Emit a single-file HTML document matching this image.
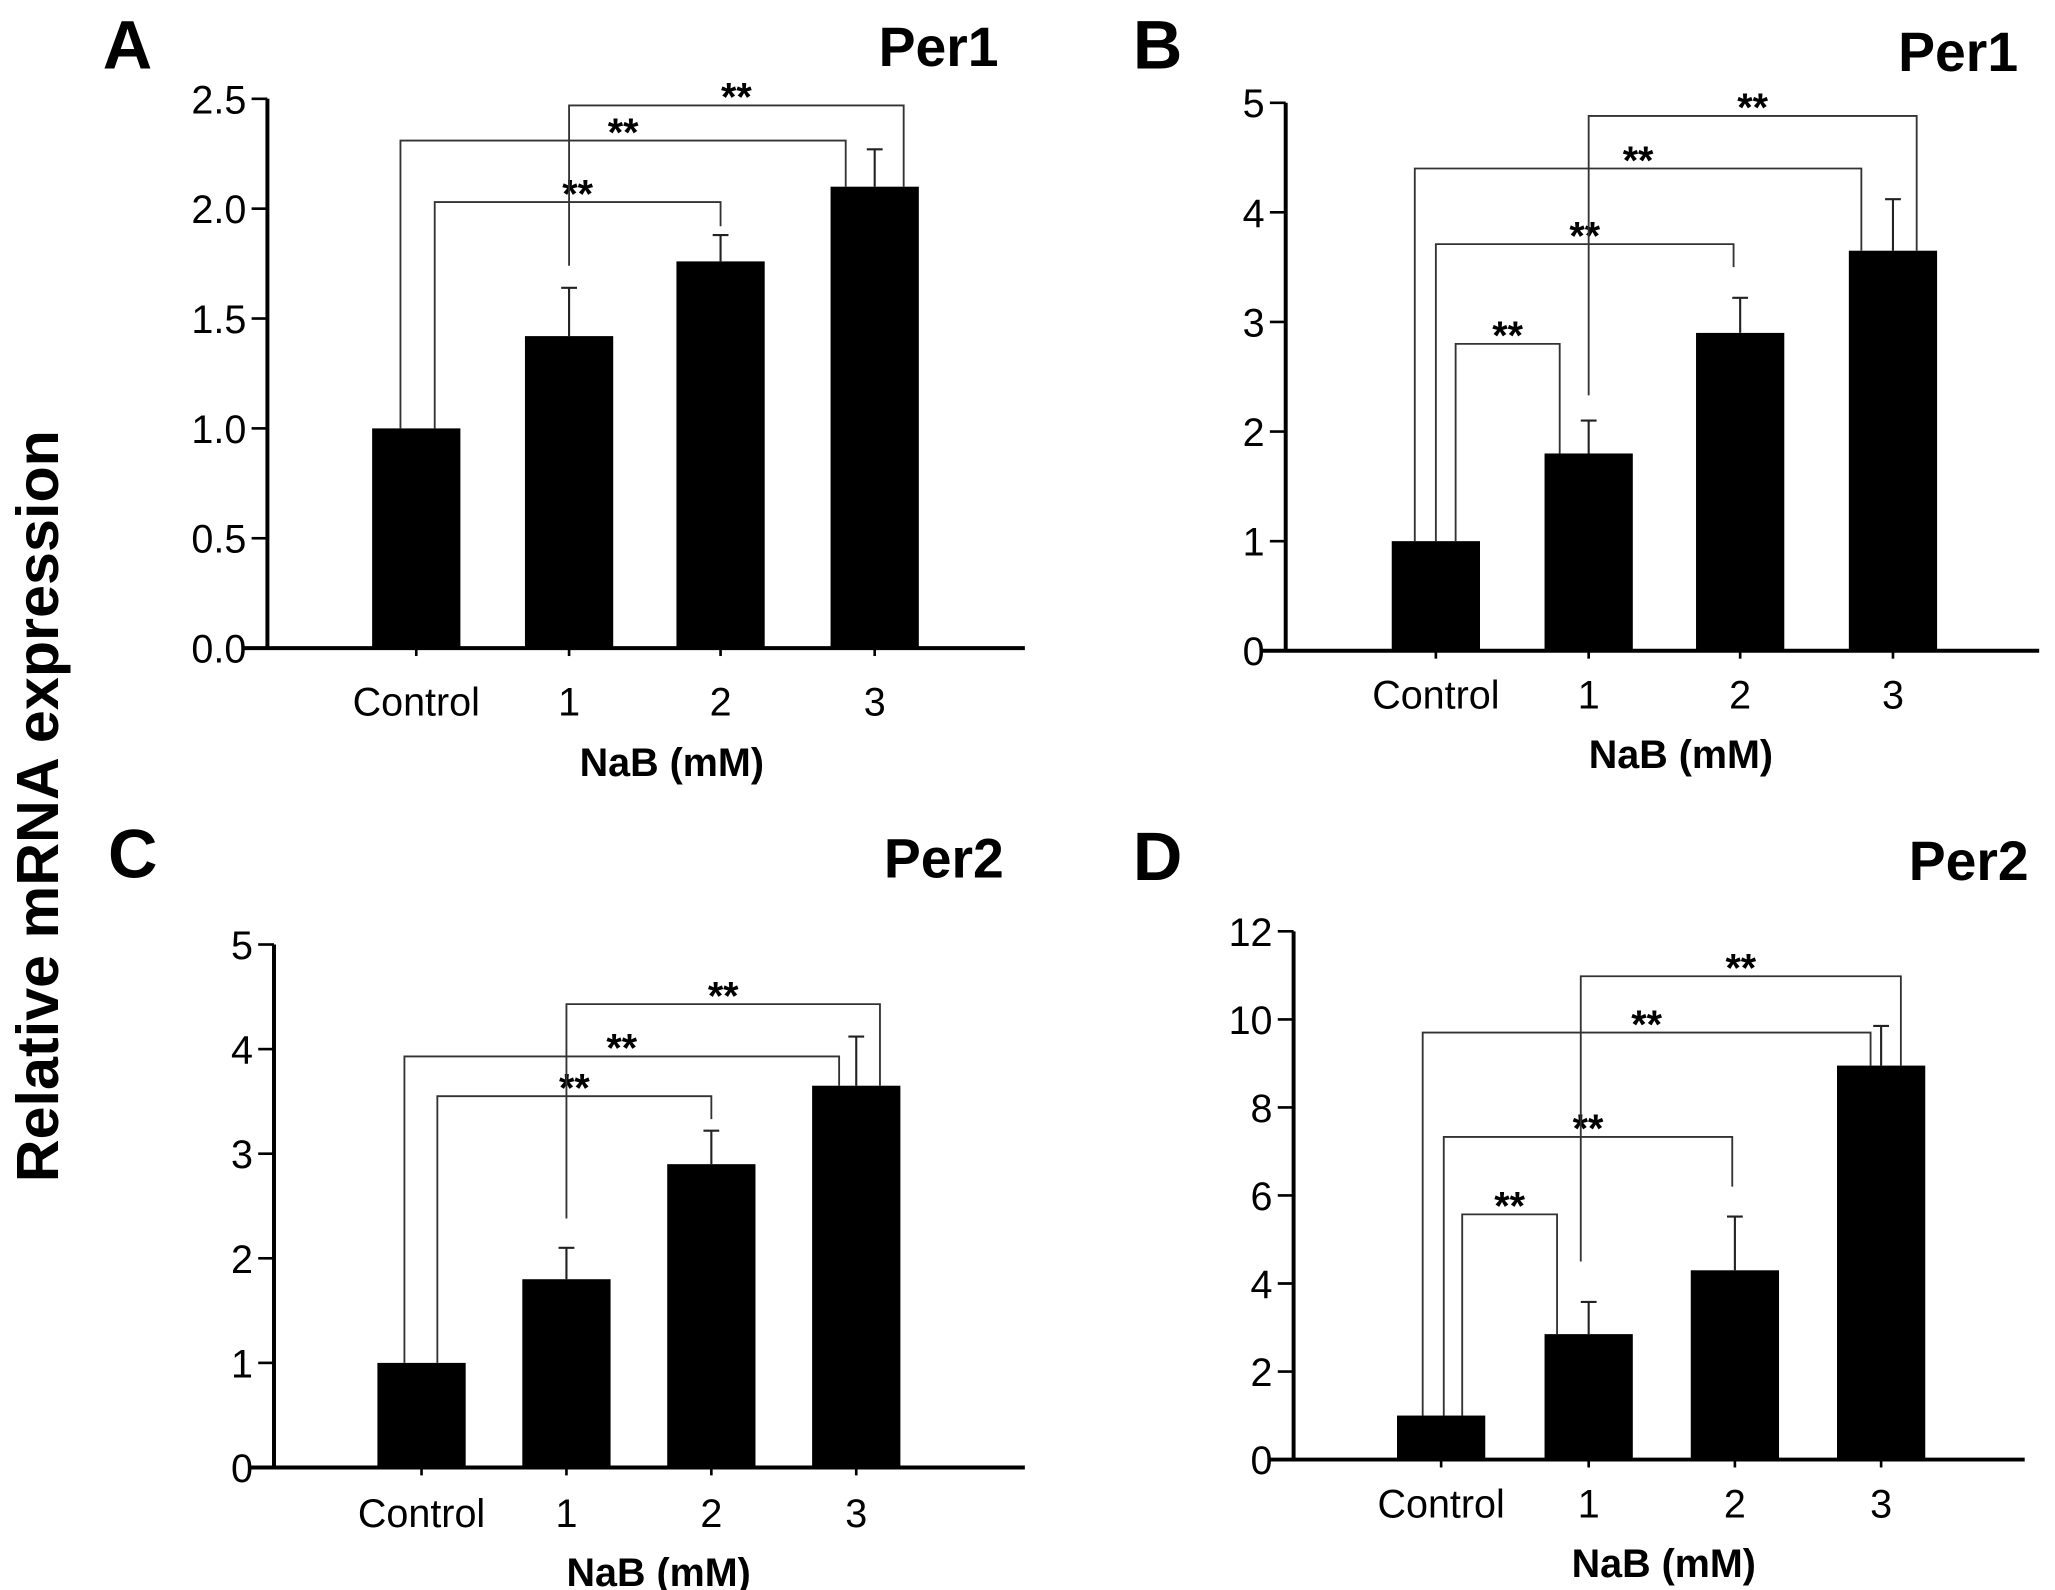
<!DOCTYPE html>
<html><head><meta charset="utf-8"><style>
html,body{margin:0;padding:0;background:#fff;}
svg{display:block;font-family:"Liberation Sans",Arial,sans-serif;}
</style></head><body>
<svg id="fig" width="2055" height="1590" viewBox="0 0 1560 1207" xmlns="http://www.w3.org/2000/svg">
<text transform="translate(44,612) rotate(-90)" text-anchor="middle" font-size="45" font-weight="bold">Relative mRNA expression</text>
</svg>
<script>
const categories = ["Control","1","2","3"];
const valuesA = [1.0, 1.42, 1.76, 2.10];
const errorsA = [1.0, 1.64, 1.88, 2.27];
const ticksA = ["0.0","0.5","1.0","1.5","2.0","2.5"];
const tickValsA = [0,0.5,1,1.5,2,2.5];
const valuesB = [1.0, 1.8, 2.9, 3.65];
const errorsB = [1.0, 2.1, 3.22, 4.12];
const ticksB = ["0","1","2","3","4","5"];
const tickValsB = [0,1,2,3,4,5];
const valuesC = [1.0, 1.8, 2.9, 3.65];
const errorsC = [1.0, 2.1, 3.22, 4.12];
const ticksC = ["0","1","2","3","4","5"];
const tickValsC = [0,1,2,3,4,5];
const valuesD = [1.0, 2.85, 4.3, 8.95];
const errorsD = [1.0, 3.58, 5.52, 9.85];
const ticksD = ["0","2","4","6","8","10","12"];
const tickValsD = [0,2,4,6,8,10,12];
// brackets: [from, to, level, leftEnd, rightEnd]
const bracketsA = [[0,2,2.03,1.0,1.92],[0,3,2.31,1.0,2.10],[1,3,2.47,1.74,2.10]];
const bracketsB = [[0,1,2.8,1.0,1.8],[0,2,3.71,1.0,3.5],[0,3,4.4,1.0,3.65],[1,3,4.88,2.33,3.65]];
const bracketsC = [[0,2,3.55,1.0,3.33],[0,3,3.93,1.0,3.65],[1,3,4.43,2.38,3.65]];
const bracketsD = [[0,1,5.57,1.0,2.85],[0,2,7.33,1.0,6.2],[0,3,9.7,1.0,8.95],[1,3,10.98,4.5,8.95]];

const NS="http://www.w3.org/2000/svg";
const svg=document.getElementById('fig');
function mk(tag,attrs,parent){const e=document.createElementNS(NS,tag);for(const k in attrs)e.setAttribute(k,attrs[k]);(parent||svg).appendChild(e);return e;}

function panel(cfg){
  const g=mk('g',{});
  
  
  const y=v=>cfg.y0-(v-cfg.vmin)/(cfg.vmax-cfg.vmin)*(cfg.y0-cfg.ytop);
  const bw=67;
  const L=mk('text',{x:cfg.letterX,y:cfg.letterY,'font-size':52,'font-weight':'bold'},g);L.textContent=cfg.id;
  
  
  const T=mk('text',{x:cfg.titleX,y:cfg.titleY,'font-size':42,'font-weight':'bold','text-anchor':'end'},g);T.textContent=cfg.title;
  
  
  cfg.values.forEach((v,i)=>{
    const cx=cfg.cx[i];
    const b=mk('rect',{x:cx-bw/2,y:y(v),width:bw,height:cfg.y0-y(v),fill:'#000'},g);
    
    
    if(cfg.errors[i]>v){
      const e=mk('path',{d:`M${cx},${y(v)}V${y(cfg.errors[i])}M${cx-6},${y(cfg.errors[i])}H${cx+6}`,stroke:'#222','stroke-width':1.6,fill:'none'},g);
      
      
    }
    mk('line',{x1:cx,x2:cx,y1:cfg.y0,y2:cfg.y0+6,stroke:'#000','stroke-width':2},g);
    const lb=mk('text',{x:cx,y:cfg.labY,'font-size':30,'text-anchor':'middle'},g);lb.textContent=categories[i];
    
    
  });
  const ya=mk('line',{x1:cfg.ax,x2:cfg.ax,y1:cfg.ytop,y2:cfg.y0,stroke:'#000','stroke-width':3},g);
  
  
  const xa=mk('line',{x1:cfg.ax-18,x2:cfg.xend,y1:cfg.y0,y2:cfg.y0,stroke:'#000','stroke-width':3},g);
  
  
  cfg.tickVals.forEach((tv,i)=>{
    mk('line',{x1:cfg.ax-12,x2:cfg.ax,y1:y(tv),y2:y(tv),stroke:'#000','stroke-width':2},g);
    const t=mk('text',{x:cfg.ax-16,y:y(tv)+11,'font-size':30,'text-anchor':'end'},g);t.textContent=cfg.ticks[i];
    
    
  });
  const xt=mk('text',{x:cfg.xtX,y:cfg.xtY,'font-size':30,'font-weight':'bold','text-anchor':'middle'},g);xt.textContent='NaB (mM)';
  
  
  cfg.brackets.forEach((br,k)=>{
    const lx=cfg.cx[br[0]]+cfg.boff[k][0], rx=cfg.cx[br[1]]+cfg.boff[k][1], by=y(br[2]);
    const p=mk('path',{d:`M${lx},${y(br[3])}V${by}H${rx}V${y(br[4])}`,stroke:'#333','stroke-width':1.4,fill:'none'},g);
    
    
    const s=mk('text',{x:(lx+rx)/2,y:by+4,'font-size':30,'font-weight':'bold','text-anchor':'middle'},g);s.textContent='**';
    
    
  });
}
panel({id:'A',title:'Per1',values:valuesA,errors:errorsA,ticks:ticksA,tickVals:tickValsA,vmin:0,vmax:2.5,
 ax:203,ytop:75,y0:492,xend:778,cx:[316,432,547,664],labY:543,xtX:510,xtY:589,letterX:78,letterY:52,titleX:758,titleY:50,
 brackets:bracketsA,boff:[[14,0],[-12,-22],[0,22]]});
panel({id:'B',title:'Per1',values:valuesB,errors:errorsB,ticks:ticksB,tickVals:tickValsB,vmin:0,vmax:5,
 ax:976,ytop:78,y0:494,xend:1548,cx:[1090,1206,1321,1437],labY:538,xtX:1276,xtY:583,letterX:860,letterY:52,titleX:1532,titleY:54,
 brackets:bracketsB,boff:[[15,-22],[0,-5],[-16,-24],[0,18]]});
panel({id:'C',title:'Per2',values:valuesC,errors:errorsC,ticks:ticksC,tickVals:tickValsC,vmin:0,vmax:5,
 ax:208,ytop:717,y0:1114,xend:778,cx:[320,430,540,650],labY:1159,xtX:500,xtY:1204,letterX:82,letterY:666,titleX:762,titleY:666,
 brackets:bracketsC,boff:[[12,0],[-13,-13],[0,18]]});
panel({id:'D',title:'Per2',values:valuesD,errors:errorsD,ticks:ticksD,tickVals:tickValsD,vmin:0,vmax:12,
 ax:982,ytop:707,y0:1108,xend:1537,cx:[1094,1206,1317,1428],labY:1152,xtX:1263,xtY:1197,letterX:860,letterY:668,titleX:1540,titleY:668,
 brackets:bracketsD,boff:[[16,-24],[2,-2],[-14,-8],[-6,15]]});
</script>
</body></html>
